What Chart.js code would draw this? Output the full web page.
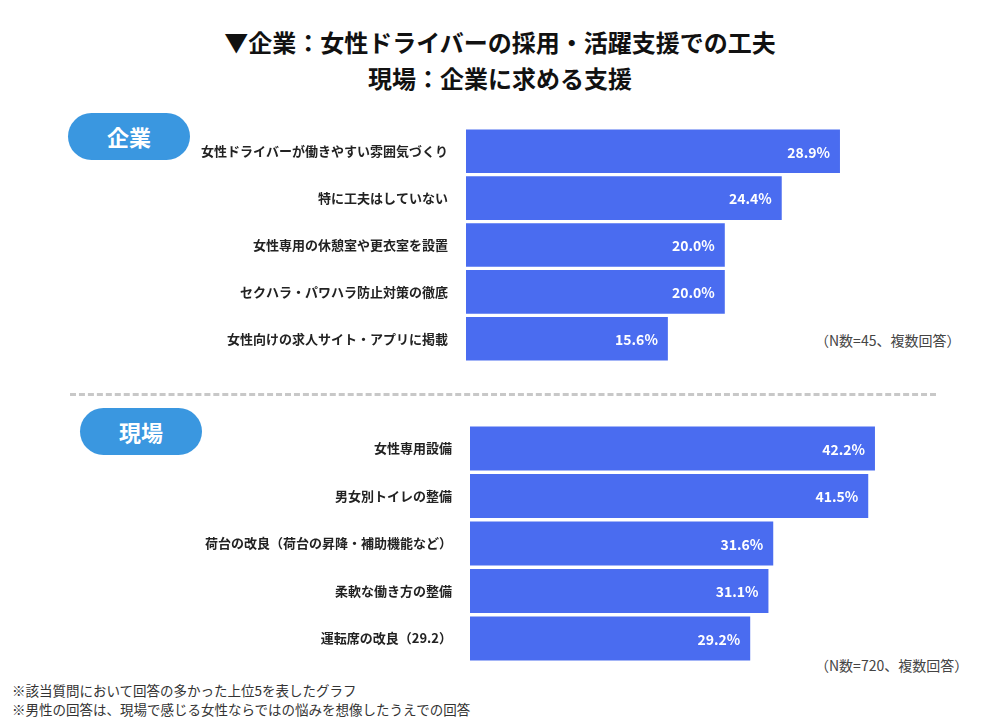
<!DOCTYPE html>
<html><head><meta charset="utf-8">
<script src="https://cdn.jsdelivr.net/npm/chart.js@4/dist/chart.umd.min.js"></script>
<style>
body{margin:0;width:1000px;height:727px;background:#fff;position:relative;font-family:"Noto Sans CJK JP","Noto Sans",sans-serif;overflow:hidden}
.t{position:absolute;left:0;width:1000px;text-align:center;font-weight:bold;font-size:24px;color:#111}
.pill{position:absolute;background:#3a97e0;color:#fff;font-weight:bold;font-size:22px;border-radius:24px;text-align:center;line-height:47px;height:47px;width:122px}
.n{position:absolute;font-size:14px;color:#444}
.note{position:absolute;left:12px;font-size:13.5px;color:#333}
canvas{position:absolute;left:0}
#dash{position:absolute;left:70px;top:393px;width:866px;border-top:3px dashed #c8c8c8}
</style></head><body>
<div class="t" style="top:24px">▼企業：女性ドライバーの採用・活躍支援での工夫</div>
<div class="t" style="top:60px">現場：企業に求める支援</div>
<div class="pill" style="left:68px;top:113px">企業</div>
<div class="pill" style="left:80px;top:408px">現場</div>
<div id="dash"></div>
<div class="n" style="left:815px;top:330px">（N数=45、複数回答）</div>
<div class="n" style="left:815px;top:655px">（N数=720、複数回答）</div>
<div class="note" style="top:680px">※該当質問において回答の多かった上位5を表したグラフ</div>
<div class="note" style="top:699px">※男性の回答は、現場で感じる女性ならではの悩みを想像したうえでの回答</div>
<div style="position:absolute;left:0;top:110px;width:1000px;height:270px"><canvas id="c1"></canvas></div>
<div style="position:absolute;left:0;top:407px;width:1000px;height:273px"><canvas id="c2"></canvas></div>
<script>
const companyLabels=["女性ドライバーが働きやすい雰囲気づくり","特に工夫はしていない","女性専用の休憩室や更衣室を設置","セクハラ・パワハラ防止対策の徹底","女性向けの求人サイト・アプリに掲載"];
const companyValues=[28.9,24.4,20.0,20.0,15.6];
const fieldLabels=["女性専用設備","男女別トイレの整備","荷台の改良（荷台の昇降・補助機能など）","柔軟な働き方の整備","運転席の改良（29.2）"];
const fieldValues=[42.2,41.5,31.6,31.1,29.2];
const valPlugin={id:'v',afterDatasetsDraw(ch){const c=ch.ctx;const m=ch.getDatasetMeta(0);c.save();c.fillStyle='#fff';c.font='bold 14px "Noto Sans CJK JP"';c.textAlign='right';c.textBaseline='middle';m.data.forEach((b,i)=>{c.fillText(ch.data.datasets[0].data[i].toFixed(1)+'%',b.x-10,b.y+1);});c.restore();}};
function mk(id,labels,values,left,max,padR){
new Chart(document.getElementById(id),{type:'bar',data:{labels:labels,datasets:[{data:values,backgroundColor:'#4a6cf0',barPercentage:0.93,categoryPercentage:1}]},
options:{indexAxis:'y',responsive:true,maintainAspectRatio:false,animation:false,layout:{padding:{left:0,right:padR,top:0,bottom:0}},
plugins:{legend:{display:false},tooltip:{enabled:false}},
scales:{x:{display:false,min:0,max:max},y:{grid:{display:false},border:{display:false},afterFit(s){s.width=left;},ticks:{color:'#222',padding:10,font:{family:'"Noto Sans CJK JP"',weight:'bold',size:13}}}}},plugins:[valPlugin]});}
mk('c1',companyLabels,companyValues,466,40,16.4);
mk('c2',fieldLabels,fieldValues,470,52,31);
</script></body></html>
